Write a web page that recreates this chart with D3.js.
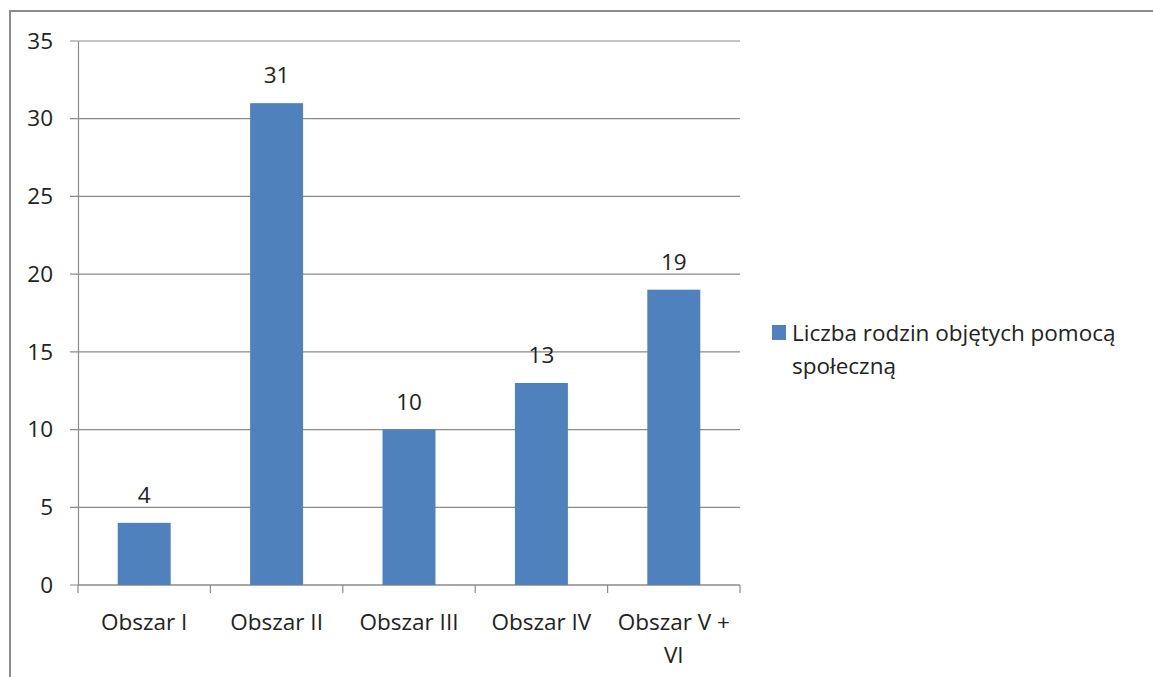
<!DOCTYPE html>
<html>
<head>
<meta charset="utf-8">
<script src="https://cdn.jsdelivr.net/npm/d3@7"></script>
<style>
  body { margin: 0; background: #fff; }
  svg { display: block; font-family: "Open Sans", sans-serif; }
</style>
</head>
<body>
<div class="chart"></div>
<script>
const categories = [['Obszar I'], ['Obszar II'], ['Obszar III'], ['Obszar IV'], ['Obszar V +', 'VI']]
const values = [4, 31, 10, 13, 19]
const yTicks = [0, 5, 10, 15, 20, 25, 30, 35]
const seriesName = ['Liczba rodzin objętych pomocą', 'społeczną']

const width = 1153
const height = 677
const margin = {left: 78, right: 413, top: 41, bottom: 92}
const barColor = '#4f81bd'
const gridColor = '#8a8a8a'
const fontSize = 22.5

var svg = d3.select('.chart').append('svg').attr('width', width).attr('height', height)

// outer frame (only top and left visible in the picture)
svg.append('rect')
  .attr('x', 10).attr('y', 11)
  .attr('width', width + 20).attr('height', height + 20)
  .attr('fill', 'none').attr('stroke', '#8c8c8c').attr('stroke-width', 2)

var xscale = d3.scaleBand()
  .domain(d3.range(categories.length))
  .range([margin.left, width - margin.right])
  .paddingInner(0.6).paddingOuter(0.3)

var xouter = d3.scaleLinear().domain([0, categories.length]).range([margin.left, width - margin.right])

var yscale = d3.scaleLinear().domain([0, 35]).range([height - margin.bottom, margin.top])

// gridlines
svg.append('g').selectAll('line').data(yTicks).join('line')
  .attr('x1', margin.left - 8).attr('x2', width - margin.right)
  .attr('y1', d => yscale(d)).attr('y2', d => yscale(d))
  .attr('stroke', gridColor).attr('stroke-width', 1.2)

// y axis
var yaxis = d3.axisLeft(yscale).tickValues(yTicks).tickSize(0).tickPadding(25)
var gy = svg.append('g').attr('transform', `translate(${margin.left},0)`).call(yaxis)
gy.select('.domain').attr('stroke', gridColor).attr('stroke-width', 1.2)
gy.selectAll('text').attr('font-size', fontSize).attr('fill', '#222').attr('font-family', '"Open Sans", sans-serif')

// x axis ticks at category boundaries
var gx = svg.append('g')
gx.append('line')
  .attr('x1', margin.left).attr('x2', width - margin.right)
  .attr('y1', yscale(0)).attr('y2', yscale(0))
  .attr('stroke', gridColor).attr('stroke-width', 1.2)
gx.selectAll('.tick').data(d3.range(categories.length + 1)).join('line')
  .attr('x1', d => xouter(d)).attr('x2', d => xouter(d))
  .attr('y1', yscale(0)).attr('y2', yscale(0) + 8)
  .attr('stroke', gridColor).attr('stroke-width', 1.2)

// bars
svg.append('g').selectAll('rect').data(values).join('rect')
  .attr('x', (d, i) => xscale(i))
  .attr('width', xscale.bandwidth())
  .attr('y', d => yscale(d))
  .attr('height', d => yscale(0) - yscale(d))
  .attr('fill', barColor)

// value labels
svg.append('g').selectAll('text').data(values).join('text')
  .attr('x', (d, i) => xscale(i) + xscale.bandwidth() / 2)
  .attr('y', d => yscale(d) - 20)
  .attr('text-anchor', 'middle')
  .attr('font-size', fontSize).attr('fill', '#222')
  .text(d => d)

// category labels
var cl = svg.append('g').selectAll('text').data(categories).join('text')
  .attr('text-anchor', 'middle')
  .attr('font-size', fontSize).attr('fill', '#222')
cl.selectAll('tspan').data((d, i) => d.map(t => ({t, i}))).join('tspan')
  .attr('x', d => xscale(d.i) + xscale.bandwidth() / 2)
  .attr('y', (d, j) => yscale(0) + 45 + j * 33)
  .text(d => d.t)

// legend
var lg = svg.append('g')
lg.append('rect').attr('x', 772).attr('y', 325).attr('width', 14).attr('height', 15).attr('fill', barColor)
lg.append('text').attr('font-size', fontSize).attr('fill', '#222')
  .selectAll('tspan').data(seriesName).join('tspan')
  .attr('x', 792).attr('y', (d, i) => 341 + i * 33)
  .text(d => d)
</script>
</body>
</html>
